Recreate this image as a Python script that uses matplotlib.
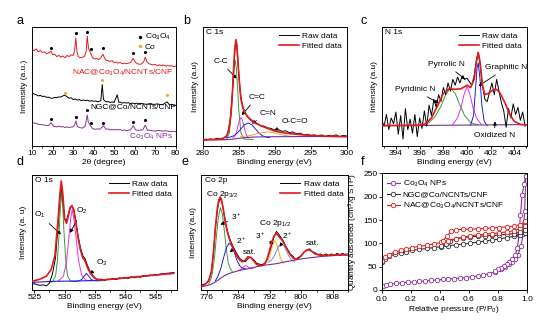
import matplotlib
matplotlib.use('Agg')
import matplotlib.pyplot as plt
from matplotlib.ticker import MultipleLocator

plt.rcParams['font.family'] = ['Liberation Sans', 'DejaVu Sans']
plt.rcParams['mathtext.fontset'] = 'custom'
plt.rcParams['mathtext.rm'] = 'Liberation Sans'
plt.rcParams['mathtext.default'] = 'regular'
plt.rcParams['font.size'] = 6

RED = '#e3191c'
PURPLE = '#8b2f9c'
ORANGE = '#f5a623'
GREEN = '#3b9a3b'
MAGENTA = '#e632e6'
BLUE = '#1f1fd6'
BGPURPLE = '#7030a0'

# ---- a: XRD ----
xrd_x_nac = [10, 11, 12, 13, 14, 15, 16, 17, 18, 19.2, 20, 21, 22, 23, 24, 25, 26, 27, 28, 29, 30, 30.7, 31.3, 31.9,
             32.5, 33.5, 34.5, 35.5, 36.3, 36.9, 37.5, 38.5, 39.5, 40.5, 41.5, 42.5, 43.5, 44.5, 45.3, 46, 47, 48, 49,
             50, 51, 52, 53, 54, 55, 56, 57, 58, 59.3, 60.5, 61.5, 62.5, 63.5, 64.5, 65.2, 66, 67, 68, 69, 70, 71, 72,
             73, 74, 75, 76, 77, 78, 79, 80]
xrd_y_nac = [81, 80, 81.5, 79, 80, 78.5, 79, 77.5, 78, 79.5, 76.5, 77, 75, 76, 74.5, 75.5, 74, 76, 75, 76.5, 76, 80, 90.5,
             79, 75, 74, 74.5, 75, 79, 92, 82, 78, 74, 73, 73.5, 72.5, 74, 77, 74, 72, 71.5, 71, 71.5,
             70, 70.5, 69.5, 70, 69, 69.5, 69, 69.5, 70, 73.5, 70, 69, 68.5, 69, 71, 74.5, 70.5, 69, 68.5, 68, 68.5,
             67.5, 68, 67.5, 68, 67, 67.5, 67, 67.5, 66.5, 67]
xrd_x_ngc = [10, 11, 12, 13, 14, 15, 16, 17, 18, 19, 20, 21, 22, 23, 24, 25.5, 26.5, 28, 29, 30, 31, 32, 33, 34, 35, 36,
             37, 38, 39, 40, 41, 42, 43.5, 44.2, 44.8, 46, 47, 48, 49, 50, 51.5, 52.3, 53, 54, 55, 56, 57, 58, 59, 60,
             61, 62, 63, 64, 65, 66, 67, 68, 69, 70, 71, 72, 73, 74, 75.8, 77, 78, 79, 80]
xrd_y_ngc = [44.5, 43.5, 43, 42, 42.5, 41.5, 41.8, 40.8, 41, 40.2, 40, 40.8, 40.5, 41.2, 41, 42.5, 42, 40, 40.5, 39, 39.5,
             38.5, 39, 38, 38.6, 38, 38.4, 37.5, 38, 37.5, 37.8, 37, 38, 51.5, 39, 37, 37.3, 36.5, 37, 36.5, 43, 36.5,
             36.8, 36, 36.4, 36, 36.3, 35.5, 36, 35.5, 35.9, 35.5, 35.8, 35.5, 35.1, 35, 35.4, 35.5, 34.9, 35, 35.3,
             35, 34.6, 35, 37, 34.5, 34.8, 34.2, 34]
xrd_x_co = [10, 11, 12, 13, 14, 15, 16, 17, 18, 19.2, 20.5, 22, 23, 24, 25, 26, 27, 28, 29, 30, 30.8, 31.4, 32, 33, 34.5,
            35.8, 36.5, 36.9, 37.4, 38.5, 39.5, 41, 42, 43, 44.8, 46, 47, 48, 49, 50, 51, 52, 53, 54, 55, 56, 57, 58,
            59.3, 60.5, 62, 63, 64, 65.2, 66.3, 67, 68, 69, 70, 71, 72, 73, 74, 75, 76, 77, 78, 79, 80]
xrd_y_co = [20, 19.2, 19, 18.2, 18, 17.8, 17.5, 17.3, 17, 19.5, 16.5, 16, 16.5, 16, 16.3, 15.5, 16, 15.5, 15.9, 16, 18,
            21, 16.5, 15.5, 15, 16.5, 22, 26, 20, 17, 14.5, 14, 14.4, 14, 17, 14, 14.3, 13.5, 13.9, 13.5, 13.8, 13.5,
            13.8, 13, 13.4, 13, 13.3, 13.5, 17, 13.5, 13, 13.4, 13.5, 17.5, 13, 13.3, 13, 12.7, 12.5, 12.9, 13, 12.6,
            12.5, 12.8, 12.5, 12.3, 12, 12.4, 12]
dot_x_nac = [19.3, 31.3, 36.9, 38.5, 44.8, 59.3, 65.2]
dot_y_nac = [82, 94.5, 96, 81, 82, 78, 79]
dot_x_ngc = [26.2, 44.2, 76]
dot_y_ngc = [44.5, 55, 43]
dot_x_co = [19.3, 31.3, 36.9, 38.5, 44.8, 59.3, 65.2]
dot_y_co = [23, 24.5, 30, 19.5, 19.5, 20.5, 21.5]

# ---- b: C 1s ----
c1s_raw_x = [280, 280.5, 281, 281.5, 282, 282.5, 283, 283.4, 283.8, 284.1, 284.3, 284.5, 284.65, 284.8, 285.0, 285.2,
             285.5, 285.8, 286.2, 286.6, 287, 287.5, 288, 288.5, 289, 289.5, 290, 290.5, 291, 291.5, 292, 292.5, 293,
             293.5, 294, 294.5, 295, 295.5, 296, 296.5, 297, 297.5, 298, 298.5, 299, 299.5, 300]
c1s_raw_y = [3.5, 3, 4, 3.5, 4.5, 3.8, 5, 7.5, 19, 42, 65, 83, 87, 78, 60, 44, 33, 27, 23, 21, 19, 17.5, 15.5, 15,
             13.5, 13, 11.5, 12, 10.5, 11, 9.5, 10, 8.5, 9, 7.5, 8, 7, 7.5, 6.5, 7.5, 6, 7, 6.5, 7.5, 6, 7, 6.5]
c1s_fit_x = [280, 281, 282, 282.8, 283.3, 283.6, 283.9, 284.1, 284.3, 284.45, 284.6, 284.75, 284.9, 285.1, 285.3,
             285.6, 286, 286.5, 287, 287.5, 288, 289, 290, 291, 292, 294, 296, 298, 300]
c1s_fit_y = [3.5, 3.5, 3.6, 4.5, 6.5, 11, 25, 42, 66, 82, 89, 84, 68, 52, 38, 30, 25, 21, 18.5, 17, 15.5, 13, 10.8,
             9.5, 8.6, 7.5, 6.6, 6.2, 6]
cc_x = [282.5, 283.3, 283.7, 284.0, 284.2, 284.35, 284.5, 284.65, 284.8, 285.0, 285.3, 285.7, 287]
cc_y = [3.4, 3.7, 9.2, 29, 51.5, 65, 71.4, 65, 51.5, 29, 9.2, 3.9, 3.6]
ceqc_x = [284.2, 284.5, 284.7, 284.9, 285.1, 285.3, 285.5, 285.7, 285.9, 286.1, 286.4]
ceqc_y = [4.9, 6.9, 10.3, 15.3, 20.2, 22.3, 20.2, 15.3, 10.3, 6.9, 4.9]
ceqn_x = [283.3, 283.8, 284.3, 284.8, 285.3, 285.8, 286.3, 286.8, 287.3, 287.8, 288.3, 288.8, 289.3]
ceqn_y = [5.1, 5.6, 6.7, 9.1, 12.7, 16.2, 17.7, 16.2, 12.7, 9.1, 6.7, 5.6, 5.1]
oco_x = [285.25, 286, 286.75, 287.5, 288.25, 289, 289.75, 290.5, 291.25, 292, 292.75]
oco_y = [6.0, 6.4, 7.2, 8.35, 9.5, 10, 9.5, 8.35, 7.2, 6.4, 6.0]
c1s_bg_x = [280, 283, 284, 285, 286, 287, 289, 292, 296, 300]
c1s_bg_y = [3.2, 3.3, 3.7, 4.5, 5.2, 5.6, 5.9, 6, 6.1, 6]

# ---- c: N 1s ----
n1s_raw_x = [392.8, 393.0, 393.2, 393.4, 393.6, 393.8, 394.0, 394.2, 394.4, 394.6, 394.8, 395.0, 395.2, 395.4, 395.6,
             395.8, 396.0, 396.2, 396.4, 396.6, 396.8, 397.0, 397.2, 397.4, 397.6, 397.8, 398.0, 398.2, 398.4, 398.6,
             398.8, 399.0, 399.2, 399.4, 399.6, 399.8, 400.0, 400.2, 400.4, 400.6, 400.8, 400.95, 401.1, 401.3,
             401.5, 401.7, 401.9, 402.1, 402.3, 402.5, 402.7, 402.9, 403.1, 403.3, 403.5, 403.7, 403.9, 404.1, 404.3,
             404.5, 404.7, 404.9]
n1s_raw_y = [20, 15, 25, 12, 22, 17, 27, 8, 24, 4, 30, 12, 21, 9, 25, 6, 22, 13, 28, 15, 33, 24, 38, 31, 42, 36, 48,
             42, 52, 45, 55, 50, 57, 52, 58, 55, 56, 53, 50, 58, 72, 78, 68, 50, 38, 36, 44, 52, 42, 55, 45, 35, 28,
             14, 30, 22, 34, 25, 31, 20, 27, 15]
n1s_fit_x = [392.8, 396.0, 396.5, 397.0, 397.5, 398.0, 398.5, 399.0, 399.5, 400.0, 400.3, 400.6, 400.8, 400.95,
             401.1, 401.3, 401.5, 401.8, 402.2, 402.5, 402.8, 403.2, 403.6, 404.0, 404.5, 405]
n1s_fit_y = [15.5, 15.7, 17, 22, 32, 43, 47, 46.5, 47, 50, 48, 55, 70, 78, 70, 50, 42, 43, 46, 46.5, 43, 35, 25, 19,
             16.5, 16]
pyridinic_x = [396.2, 396.8, 397.3, 397.8, 398.2, 398.6, 399.0, 399.4, 399.8, 400.3, 400.9]
pyridinic_y = [16, 18, 23, 32, 42, 47.5, 43, 33, 24, 18, 16]
pyrrolic_x = [398.8, 399.2, 399.5, 399.75, 400.0, 400.25, 400.5, 400.8, 401.2]
pyrrolic_y = [16.5, 22, 31, 42, 49, 42, 31, 22, 16.5]
graphitic_x = [400.3, 400.55, 400.7, 400.85, 400.95, 401.1, 401.25, 401.45, 401.7]
graphitic_y = [15.8, 24, 44, 65, 69, 55, 33, 19, 15.7]
n1s_bg_x = [392.8, 405]
n1s_bg_y = [15.3, 16.3]

# ---- d: O 1s ----
o1s_raw_x = [524.6, 525, 525.5, 526, 526.5, 527, 527.5, 528, 528.5, 528.9, 529.2, 529.45, 529.7, 530.0, 530.3, 530.6,
             530.9, 531.2, 531.5, 531.8, 532.2, 532.6, 533.0, 533.4, 533.8, 534.3, 535, 535.5, 536, 536.5, 537,
             537.5, 538, 538.5, 539, 539.5, 540, 540.5, 541, 541.5, 542, 542.5, 543, 543.5, 544, 544.5, 545, 545.5,
             546, 546.5, 547, 547.5, 548]
o1s_raw_y = [5, 5.5, 4.5, 4, 4.5, 3.5, 6, 14, 28, 55, 78, 89, 80, 62, 60, 66, 72, 73, 70, 62, 48, 37, 30, 27, 21, 15,
             10.5, 9, 9.5, 8, 9.5, 9, 10, 9, 10.5, 10, 11, 10, 11.5, 10.5, 12, 11, 12.5, 12, 13, 12.5, 13.5, 13, 14,
             13.5, 14.5, 14, 15]
o1s_fit_x = [524.5, 525, 526, 527, 527.8, 528.4, 528.9, 529.2, 529.45, 529.7, 530.0, 530.3, 530.6, 530.9, 531.2,
             531.5, 531.8, 532.2, 532.6, 533.0, 533.4, 533.8, 534.3, 535, 536, 538, 540, 544, 548]
o1s_fit_y = [7.5, 8, 9.5, 12, 18, 30, 60, 82, 95, 84, 62, 58, 64, 71, 73.5, 70, 60, 46, 35, 28, 25, 19, 14, 10, 8.5,
             9.5, 10.5, 12.5, 14.5]
o1_x = [527.5, 528.0, 528.5, 528.8, 529.1, 529.3, 529.5, 529.7, 529.9, 530.2, 530.5, 531.0, 531.5]
o1_y = [6.8, 7, 12, 25, 50, 72, 84, 72, 50, 25, 12, 7.5, 7.5]
o2_x = [529.0, 529.8, 530.3, 530.7, 531.0, 531.25, 531.5, 531.9, 532.3, 532.8, 533.5, 534.5]
o2_y = [8, 12, 24, 45, 62, 70, 63, 45, 26, 13, 8.5, 8]
o3_x = [531.5, 532.2, 532.8, 533.2, 533.6, 534.0, 534.4, 535.0, 536]
o3_y = [7.5, 7.6, 9, 12, 14.4, 12, 9, 8, 8]
o1s_bg_x = [524.5, 528, 532, 535, 540, 544, 548]
o1s_bg_y = [6.6, 7.5, 7.8, 8.2, 10.3, 12.5, 15.2]

# ---- e: Co 2p ----
co2p_raw_x = [774.6, 775.3, 776, 776.6, 777.2, 777.7, 778.2, 778.7, 779.1, 779.5, 779.9, 780.3, 780.8, 781.3, 781.9,
              782.5, 783.1, 783.7, 784.4, 785.1, 785.8, 786.5, 787.2, 787.9, 788.6, 789.3, 790, 790.7, 791.3, 791.9,
              792.5, 793.1, 793.7, 794.2, 794.8, 795.4, 796, 796.6, 797.2, 797.9, 798.6, 799.3, 800, 800.7, 801.4,
              802.1, 802.8, 803.5, 804.2, 804.9, 805.6, 806.3, 807, 807.7, 808.4, 809.1, 809.8, 810.5, 811.2, 811.9]
co2p_raw_y = [2, 3, 4, 7, 14, 30, 52, 68, 76, 79, 76, 68, 58, 50, 43, 38, 34, 30, 26, 24, 23, 26, 27, 25, 22, 21,
              20.5, 21.5, 25, 31, 38, 45, 50, 48, 45, 42, 37, 34, 30, 28, 25, 27, 28, 31.5, 33, 34.5, 32, 31, 29.5, 30,
              28.5, 30, 28.5, 30, 28.5, 30.5, 29, 30.5, 29, 30]
co2p_fit_x = [774.6, 775.5, 776.5, 777.2, 777.7, 778.2, 778.7, 779.1, 779.45, 779.8, 780.3, 780.8, 781.3, 781.9,
              782.5, 783.1, 783.7, 784.4, 785.1, 785.8, 786.5, 787.2, 787.9, 788.6, 789.3, 790, 790.7, 791.3, 791.9,
              792.5, 793.1, 793.6, 794.1, 794.7, 795.3, 796, 796.6, 797.2, 797.9, 798.6, 799.3, 800, 800.7, 801.4,
              802.1, 802.8, 803.5, 804.5, 806, 808, 810, 812]
co2p_fit_y = [1, 2.5, 6, 14, 30, 52, 70, 78, 80.5, 78, 68, 57, 49, 42, 37, 32, 28, 24.5, 23, 24.5, 27.5, 27, 24, 21,
              19.5, 19.5, 21, 25, 32, 40, 46, 48, 46.5, 44, 41.5, 37, 33, 29.5, 26.5, 25, 26, 28.5, 31.5, 33.5, 33.5,
              32, 30, 29, 28.5, 29, 29.5, 29.5]
co3_a_x = [776.5, 777.0, 777.5, 778.0, 778.5, 779.0, 779.5, 780.0, 780.5, 781.0, 781.5, 782.0, 782.5]
co3_a_y = [3.4, 6.6, 13.6, 27, 46, 63, 71, 65.5, 50.5, 34, 22, 16.8, 14.6]
co2_a_x = [778.2, 778.9, 779.6, 780.3, 781.0, 781.7, 782.4, 783.1, 783.8, 784.5, 785.2, 786]
co2_a_y = [6, 10.4, 17, 26.5, 35.3, 39.5, 37.2, 30.6, 23.4, 19, 17.1, 16.5]
sat_a_x = [784, 784.7, 785.3, 785.9, 786.5, 787.1, 787.8]
sat_a_y = [15.3, 16.2, 18, 19.8, 18.5, 17.3, 17.3]
co3_b_x = [791.05, 791.5, 791.95, 792.4, 792.85, 793.3, 793.75, 794.2, 794.65, 795.1, 795.55]
co3_b_y = [21.9, 23.8, 27.7, 33.5, 39, 41.5, 39, 33.5, 27.7, 23.8, 21.9]
co2_b_x = [791.75, 792.4, 793.05, 793.7, 794.35, 795, 795.65, 796.3, 796.95, 797.6, 798.25]
co2_b_y = [22.7, 24.3, 27.5, 32.3, 37, 39, 37, 32.3, 27.5, 24.3, 22.7]
co2p_bg_x = [774.6, 776, 777, 778, 779, 780, 781, 782, 783, 784, 785, 786, 788, 790, 792, 794, 796, 798, 800, 802,
             804, 806, 809, 812]
co2p_bg_y = [0.8, 1.8, 2.8, 4.5, 7, 9.5, 11.5, 13, 14, 15, 15.8, 16.5, 18, 19.8, 20.5, 21.5, 23, 24.3, 25.5, 26.5,
             27.3, 28, 28.7, 29]

# ---- f: N2 isotherms ----
co_ads_x = [0.01, 0.03, 0.06, 0.1, 0.14, 0.18, 0.22, 0.26, 0.3, 0.34, 0.38, 0.42, 0.46, 0.5, 0.54, 0.58, 0.62, 0.66,
            0.7, 0.74, 0.78, 0.82, 0.85, 0.88, 0.9, 0.92, 0.94, 0.96, 0.975, 0.985, 0.993]
co_ads_y = [9, 11, 12.5, 14, 15.5, 16.5, 17.5, 18.5, 19.5, 20.5, 21.5, 22.5, 23.5, 24.5, 25.5, 26.5, 28, 30, 32, 35,
            39, 44, 49, 55, 60, 66, 76, 95, 120, 170, 245]
co_des_x = [0.993, 0.98, 0.967, 0.956, 0.945, 0.935, 0.92, 0.9, 0.88, 0.86, 0.84, 0.82, 0.8, 0.78]
co_des_y = [245, 228, 203, 160, 118, 90, 76, 67, 61, 56, 52, 48, 44, 40]
ngc_ads_x = [0.0, 0.02, 0.05, 0.09, 0.13, 0.17, 0.21, 0.26, 0.31, 0.36, 0.41, 0.46, 0.51, 0.56, 0.61, 0.66, 0.71,
             0.76, 0.81, 0.86, 0.91, 0.95, 0.99]
ngc_ads_y = [61, 67, 72, 77, 80, 82.5, 85, 87, 89, 91, 93, 95, 96.5, 98.5, 100.5, 102.5, 105, 107, 109.5, 112, 115,
             118, 122]
ngc_des_x = [0.99, 0.95, 0.91, 0.86, 0.81, 0.76, 0.71, 0.66, 0.61, 0.56, 0.51, 0.47, 0.44, 0.41]
ngc_des_y = [128, 124, 121, 119.5, 118, 117, 116, 115, 114, 112.5, 110, 104, 98, 94.5]
nac_ads_x = [0.0, 0.02, 0.05, 0.09, 0.13, 0.17, 0.21, 0.26, 0.31, 0.36, 0.41, 0.46, 0.51, 0.56, 0.61, 0.66, 0.71,
             0.76, 0.81, 0.86, 0.91, 0.95, 0.99]
nac_ads_y = [63, 70, 76, 81, 85, 88, 91, 93.5, 96, 99, 102, 106, 110, 113.5, 116, 118, 119.5, 121, 122.5, 124.5, 127,
             132, 146]
nac_des_x = [0.99, 0.95, 0.91, 0.86, 0.81, 0.76, 0.71, 0.66, 0.61, 0.56, 0.51, 0.48, 0.45, 0.42]
nac_des_y = [147, 140, 137, 135.5, 134, 133, 132, 131, 130.5, 130, 129, 126, 116, 105]


def style(ax, xlim, major, minor=None, yticks=False):
    ax.set_xlim(*xlim)
    ax.xaxis.set_major_locator(MultipleLocator(major))
    if minor:
        ax.xaxis.set_minor_locator(MultipleLocator(minor))
    ax.tick_params(which='both', direction='out', labelsize=6, pad=1, width=0.6)
    ax.tick_params(which='major', length=2.2)
    ax.tick_params(which='minor', length=1.3)
    if not yticks:
        ax.set_yticks([])
    for s in ax.spines.values():
        s.set_linewidth(0.7)


def xps(ax, raw, fit, comps, bg, bgcolor, title):
    ax.plot(*raw, color='black', lw=0.7, zorder=3, label='Raw data')
    ax.plot(*fit, color=RED, lw=1.2, zorder=4, label='Fitted data')
    for cx, cy, col in comps:
        ax.plot(cx, cy, color=col, lw=0.7, zorder=2)
    ax.plot(*bg, color=bgcolor, lw=0.8, zorder=2)
    ax.text(0.025, 0.985, title, transform=ax.transAxes, va='top', ha='left', fontsize=6)
    ax.legend(loc='upper right', frameon=False, fontsize=6, handlelength=2.4, handletextpad=0.4,
              borderaxespad=0.2, labelspacing=0.3)
    ax.set_ylabel('Intensity (a.u)', fontsize=6, labelpad=3)
    ax.set_xlabel('Binding energy (eV)', fontsize=6, labelpad=1)


def note(ax, txt, xy, xytext):
    ax.annotate(txt, xy=xy, xytext=xytext, ha='center', va='center', fontsize=6,
                arrowprops=dict(arrowstyle='-|>', color='black', lw=0.6, mutation_scale=5,
                                shrinkA=1, shrinkB=0))


fig = plt.figure(figsize=(5.54, 3.31), dpi=100)
ax_a = fig.add_axes([0.058, 0.559, 0.259, 0.360])
ax_b = fig.add_axes([0.366, 0.559, 0.260, 0.360])
ax_c = fig.add_axes([0.689, 0.559, 0.262, 0.360])
ax_d = fig.add_axes([0.057, 0.124, 0.262, 0.347])
ax_e = fig.add_axes([0.363, 0.124, 0.266, 0.347])
ax_f = fig.add_axes([0.689, 0.124, 0.262, 0.352])

# a
ax = ax_a
ax.plot(xrd_x_nac, xrd_y_nac, color=RED, lw=0.7)
ax.plot(xrd_x_ngc, xrd_y_ngc, color='black', lw=0.7)
ax.plot(xrd_x_co, xrd_y_co, color=PURPLE, lw=0.7)
ax.scatter(dot_x_nac + dot_x_co, dot_y_nac + dot_y_co, s=5, color='black', lw=0, label='Co$_3$O$_4$')
ax.scatter(dot_x_ngc, dot_y_ngc, s=5, color=ORANGE, lw=0, label='Co')
ax.set_ylim(0, 100)
style(ax, (10, 80), 10, 5)
ax.text(79, 61, 'NAC@Co$_3$O$_4$/NCNTs/CNF', color=RED, ha='right', va='center', fontsize=6)
ax.text(80, 32.5, 'NGC@Co/NCNTs/CNF', color='black', ha='right', va='center', fontsize=6)
ax.text(79, 8, 'Co$_3$O$_4$ NPs', color=PURPLE, ha='right', va='center', fontsize=6)
ax.legend(loc='upper right', frameon=False, fontsize=6, handlelength=0.5, handletextpad=0.3,
          borderaxespad=0.2, labelspacing=0.1, markerscale=1.1)
ax.set_ylabel('Intensity (a.u.)', fontsize=6, labelpad=3)
ax.set_xlabel('2θ (degree)', fontsize=6, labelpad=1)

# b
ax = ax_b
xps(ax, (c1s_raw_x, c1s_raw_y), (c1s_fit_x, c1s_fit_y),
    [(cc_x, cc_y, GREEN), (ceqc_x, ceqc_y, MAGENTA), (ceqn_x, ceqn_y, BLUE), (oco_x, oco_y, ORANGE)],
    (c1s_bg_x, c1s_bg_y), BGPURPLE, 'C 1s')
ax.set_ylim(-2, 100)
style(ax, (280, 300), 5, 2.5)
note(ax, 'C-C', (284.7, 55.7), (282.5, 70))
note(ax, 'C=C', (285.4, 24.3), (287.5, 39.4))
note(ax, 'C=N', (286.8, 17.1), (289, 25.7))
note(ax, 'O-C=O', (289.9, 11.4), (292.8, 18.6))

# c
ax = ax_c
xps(ax, (n1s_raw_x, n1s_raw_y), (n1s_fit_x, n1s_fit_y),
    [(pyridinic_x, pyridinic_y, GREEN), (pyrrolic_x, pyrrolic_y, MAGENTA), (graphitic_x, graphitic_y, BLUE)],
    (n1s_bg_x, n1s_bg_y), BGPURPLE, 'N 1s')
ax.set_ylim(-2, 100)
style(ax, (392.8, 405.05), 2, 1)
note(ax, 'Pyrrolic N', (399.84, 55), (398.3, 67.6))
note(ax, 'Graphitic N', (400.97, 49.3), (403.3, 64.8))
note(ax, 'Pyridinic N', (397.6, 34.6), (395.6, 46))
note(ax, 'Oxidized N', (402.37, 19), (402.3, 7))

# d
ax = ax_d
xps(ax, (o1s_raw_x, o1s_raw_y), (o1s_fit_x, o1s_fit_y),
    [(o1_x, o1_y, GREEN), (o2_x, o2_y, MAGENTA), (o3_x, o3_y, BLUE)],
    (o1s_bg_x, o1s_bg_y), BLUE, 'O 1s')
ax.set_ylim(0, 100)
ax.set_ylabel('Intensity (a. u)', fontsize=6, labelpad=3)
style(ax, (524.55, 548.5), 5, 2.5)
note(ax, 'O$_1$', (529.4, 48.3), (525.9, 65.5))
note(ax, 'O$_2$', (530.9, 49.7), (532.8, 68.4))
note(ax, 'O$_3$', (534.2, 13.8), (536.2, 23.9))

# e
ax = ax_e
xps(ax, (co2p_raw_x, co2p_raw_y), (co2p_fit_x, co2p_fit_y),
    [(co3_a_x, co3_a_y, GREEN), (co2_a_x, co2_a_y, BLUE), (sat_a_x, sat_a_y, MAGENTA),
     (co3_b_x, co3_b_y, ORANGE), (co2_b_x, co2_b_y, '#7b8fe0')],
    (co2p_bg_x, co2p_bg_y), BGPURPLE, 'Co 2p')
ax.set_ylim(-2, 100)
style(ax, (774.6, 812), 8, 4)
ax.text(780, 83, 'Co 2p$_{3/2}$', ha='center', va='center', fontsize=6)
ax.text(793.3, 57, 'Co 2p$_{1/2}$', ha='center', va='center', fontsize=6)
ax.text(787, 31.4, 'sat.', ha='center', va='center', fontsize=6)
ax.text(802.8, 39.3, 'sat.', ha='center', va='center', fontsize=6)
note(ax, '3$^+$', (779.5, 56), (783.7, 63))
note(ax, '2$^+$', (781.9, 31.4), (784.9, 41.4))
note(ax, '3$^+$', (793, 38.8), (789.6, 45.9))
note(ax, '2$^+$', (794.5, 36.4), (796.4, 45.9))

# f
ax = ax_f
mk = dict(marker='o', markersize=3.2, markerfacecolor='white', markeredgewidth=0.6, lw=0.8)
ax.plot(co_ads_x, co_ads_y, color=PURPLE, label='Co$_3$O$_4$ NPs', **mk)
ax.plot(co_des_x, co_des_y, color=PURPLE, **mk)
ax.plot(ngc_ads_x, ngc_ads_y, color='#333333', label='NGC@Co/NCNTs/CNF', **mk)
ax.plot(ngc_des_x, ngc_des_y, color='#333333', **mk)
ax.plot(nac_ads_x, nac_ads_y, color=RED, label='NAC@Co$_3$O$_4$/NCNTs/CNF', **mk)
ax.plot(nac_des_x, nac_des_y, color=RED, **mk)
ax.set_ylim(0, 250)
style(ax, (0, 1.0), 0.2, None, yticks=True)
ax.yaxis.set_major_locator(MultipleLocator(50))
ax.tick_params(axis='x', pad=2)
ax.set_xticklabels([f'{v:.1f}' for v in ax.get_xticks()])
ax.legend(loc='upper left', frameon=False, fontsize=6, handlelength=1.6, handletextpad=0.3,
          borderaxespad=0.2, labelspacing=0.25)
ax.set_ylabel('Quantity adsorbed (cm$^3$/g STP)', fontsize=6, labelpad=2)
ax.set_xlabel('Relative pressure (P/P$_0$)', fontsize=6, labelpad=1)

for lab, x, y in [('a', 0.037, 0.937), ('b', 0.337, 0.937), ('c', 0.657, 0.937),
                  ('d', 0.036, 0.51), ('e', 0.334, 0.51), ('f', 0.655, 0.51)]:
    fig.text(x, y, lab, fontsize=9, ha='center', va='center')

fig.savefig('out.png', dpi=100)
